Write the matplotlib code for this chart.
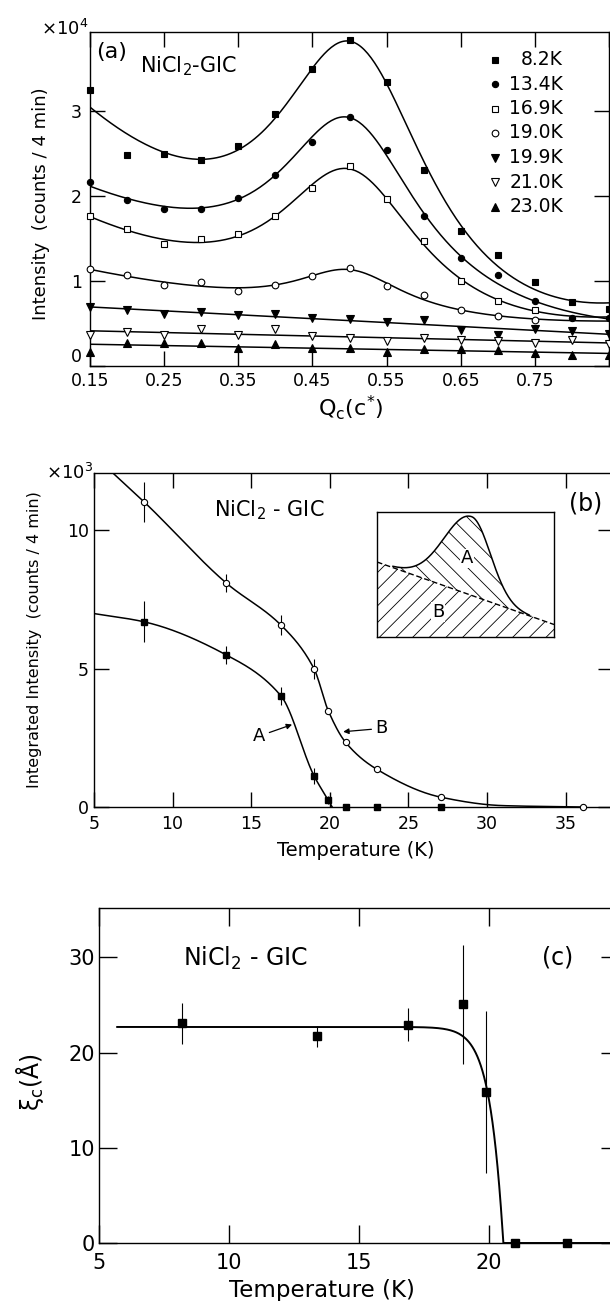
import matplotlib
matplotlib.use('Agg')
import numpy as np
import matplotlib.pyplot as plt

plt.rcParams['font.family'] = ['DejaVu Sans']
plt.rcParams['mathtext.default'] = 'regular'
plt.rcParams['hatch.linewidth'] = 0.6

W, H = 610, 1301
nan = np.nan

# (a) Q_c scans at several temperatures, intensity in units of 1e4 counts / 4 min
q_c = [0.15, 0.20, 0.25, 0.30, 0.35, 0.40, 0.45, 0.50, 0.55, 0.60, 0.65, 0.70, 0.75, 0.80, 0.85]
int_8p2 = [3.25, 2.48, 2.49, 2.42, 2.59, 2.97, 3.49, 3.84, 3.34, 2.31, 1.59, 1.31, 0.99, 0.75, 0.67]
int_13p4 = [2.16, 1.95, 1.85, 1.85, 1.98, 2.25, 2.64, 2.93, 2.54, 1.77, 1.27, 1.07, 0.76, 0.57, 0.56]
int_16p9 = [1.76, 1.61, 1.44, 1.49, 1.55, 1.76, 2.09, 2.35, 1.96, 1.47, 1.00, 0.76, 0.66, nan, nan]
int_19p0 = [1.14, 1.07, 0.95, 0.99, 0.88, 0.95, 1.06, 1.15, 0.94, 0.83, 0.66, 0.59, 0.54, nan, nan]
int_19p9 = [0.70, 0.66, 0.61, 0.64, 0.60, 0.61, 0.57, 0.55, 0.52, 0.54, 0.42, 0.36, 0.44, 0.41, 0.38]
int_21p0 = [0.37, 0.40, 0.37, 0.44, 0.37, 0.44, 0.35, 0.33, 0.30, 0.33, 0.31, 0.29, 0.27, 0.31, 0.26]
int_23p0 = [0.16, 0.27, 0.27, 0.27, 0.21, 0.26, 0.21, 0.21, 0.17, 0.20, 0.20, 0.19, 0.15, 0.13, 0.13]
scan_labels = ['8.2K', '13.4K', '16.9K', '19.0K', '19.9K', '21.0K', '23.0K']

# (b) integrated intensities, units of 1e3 counts / 4 min
T_B = [8.2, 13.4, 16.9, 19.0, 19.9, 21.0, 23.0, 27.1, 36.1]
I_B = [11.02, 8.10, 6.57, 4.99, 3.48, 2.34, 1.36, 0.35, 0.0]
err_B = [0.72, 0.32, 0.37, 0.35, 0, 0, 0, 0, 0]
T_A = [8.2, 13.4, 16.9, 19.0, 19.9, 21.0, 23.0, 27.1]
I_A = [6.69, 5.50, 4.01, 1.12, 0.25, 0.0, 0.0, 0.0]
err_A = [0.74, 0.33, 0.31, 0.30, 0.15, 0, 0, 0]
# guide-to-the-eye nodes
guide_A_T = [5.0, 8.2, 13.4, 16.9, 19.0, 19.9, 20.15]
guide_A_I = [6.99, 6.69, 5.50, 4.01, 1.12, 0.25, 0.0]
guide_B_T = [6.2, 8.2, 13.4, 16.9, 19.0, 19.9, 21.0, 23.0, 27.1, 31.0, 36.1]
guide_B_I = [12.07, 11.02, 8.10, 6.57, 4.99, 3.48, 2.34, 1.36, 0.35, 0.05, 0.0]

# (c) correlation length along c
T_xi = [8.2, 13.4, 16.9, 19.0, 19.9, 21.0, 23.0]
xi_c = [23.1, 21.7, 22.95, 25.1, 15.85, 0.0, 0.0]
err_xi = [2.15, 1.1, 1.7, 6.25, 8.5, 0, 0]
XI0, TC_XI, N_XI = 22.7, 20.55, 40


def fit_peak(q, y):
    """quadratic background + lorentzian, grid over centre and width"""
    q = np.asarray(q); y = np.asarray(y)
    ok = ~np.isnan(y)
    best = None
    for q0 in np.linspace(0.47, 0.53, 13):
        for w in np.linspace(0.03, 0.15, 61):
            X = np.column_stack([np.ones(ok.sum()), q[ok], q[ok] ** 2,
                                 1 / (1 + ((q[ok] - q0) / w) ** 2)])
            coef = np.linalg.lstsq(X, y[ok], rcond=None)[0]
            r = np.sum((X @ coef - y[ok]) ** 2)
            if best is None or r < best[0]:
                best = (r, q0, w, coef)
    _, q0, w, c = best
    return lambda x: c[0] + c[1] * x + c[2] * x ** 2 + c[3] / (1 + ((x - q0) / w) ** 2)


def fit_line(q, y):
    p = np.polyfit(q, y, 1)
    return lambda x: np.polyval(p, x)


def pchip(x, y, xs):
    x = np.asarray(x, float); y = np.asarray(y, float)
    h = np.diff(x); d = np.diff(y) / h
    m = np.zeros_like(y)
    m[0], m[-1] = d[0], d[-1]
    for k in range(1, len(x) - 1):
        if d[k - 1] * d[k] > 0:
            w1 = 2 * h[k] + h[k - 1]
            w2 = h[k] + 2 * h[k - 1]
            m[k] = (w1 + w2) / (w1 / d[k - 1] + w2 / d[k])
    i = np.clip(np.searchsorted(x, xs) - 1, 0, len(x) - 2)
    t = (xs - x[i]) / h[i]
    return ((2 * t ** 3 - 3 * t ** 2 + 1) * y[i] + (t ** 3 - 2 * t ** 2 + t) * h[i] * m[i]
            + (-2 * t ** 3 + 3 * t ** 2) * y[i + 1] + (t ** 3 - t ** 2) * h[i] * m[i + 1])


fig = plt.figure(figsize=(W / 100, H / 100), dpi=100)


def px_axes(left, top, right, bottom):
    return fig.add_axes([left / W, 1 - bottom / H, (right - left) / W, (bottom - top) / H])


def fxy(px, py):
    return px / W, 1 - py / H


def style(ax, size, xpad, ypad, length=11):
    ax.tick_params(direction='in', length=length, width=1, top=True, right=True,
                   labelsize=size)
    ax.tick_params(axis='x', pad=xpad)
    ax.tick_params(axis='y', pad=ypad)
    for s in ax.spines.values():
        s.set_linewidth(1.0)


# ---------------- (a) ----------------
ax = px_axes(90, 32, 609, 366)
ax.set_xlim(0.15, 0.85)
ax.set_ylim(0, 3.93)
ax.set_xticks([0.15, 0.25, 0.35, 0.45, 0.55, 0.65, 0.75, 0.85])
ax.set_xticklabels(['0.15', '0.25', '0.35', '0.45', '0.55', '0.65', '0.75', ''])
ax.set_yticks([0, 1, 2, 3])
ax.set_yticklabels(['0', '1', '2', '3'])
style(ax, 12.5, 4.5, 6)
# keep the corner "0" clear of "0.15"
ax.get_yticklabels()[0].set_va('bottom')

series = [int_8p2, int_13p4, int_16p9, int_19p0, int_19p9, int_21p0, int_23p0]
markers = [('s', 'k', 4.5), ('o', 'k', 4.5), ('s', 'w', 4.8), ('o', 'w', 4.8),
           ('v', 'k', 6), ('v', 'w', 6), ('^', 'k', 6)]
qq = np.linspace(0.15, 0.85, 300)
for k, (ys, (mk, fc, ms)) in enumerate(zip(series, markers)):
    fit = fit_peak(q_c, ys) if k < 4 else fit_line(q_c, ys)
    ax.plot(qq, fit(qq), color='k', lw=1.1, zorder=2)
    ax.plot(q_c, ys, ls='none', marker=mk, mfc=fc, mec='k', mew=0.8, ms=ms,
            zorder=3, clip_on=False)

for k, ((mk, fc, ms), lab) in enumerate(zip(markers, scan_labels)):
    y = 59.5 + 24.5 * k
    fig.lines.append(plt.Line2D([495 / W], [1 - y / H], marker=mk, mfc=fc, mec='k',
                                mew=0.8, ms=ms, transform=fig.transFigure))
    fig.text(*fxy(563, y), lab, ha='right', va='center', fontsize=13.5)

fig.text(*fxy(88, 29), '×10$^4$', ha='right', va='center', fontsize=13)
fig.text(*fxy(96, 52), '(a)', ha='left', va='center', fontsize=16)
fig.text(*fxy(140, 66), 'NiCl$_2$-GIC', ha='left', va='center', fontsize=15)
fig.text(*fxy(41, 204), 'Intensity  (counts / 4 min)', rotation=90,
         ha='center', va='center', fontsize=13)
fig.text(*fxy(351, 408), 'Q$_c$(c$^{*}$)', ha='center', va='center', fontsize=16)

# ---------------- (b) ----------------
bx = px_axes(94, 473, 612.8, 807)
bx.set_xlim(5, 38)
bx.set_ylim(0, 12.07)
bx.set_xticks([5, 10, 15, 20, 25, 30, 35])
bx.set_yticks([0, 5, 10])
style(bx, 12.5, 6, 3.5)

tt = np.linspace(guide_A_T[0], guide_A_T[-1], 300)
bx.plot(tt, pchip(guide_A_T, guide_A_I, tt), color='k', lw=1.1)
tt = np.linspace(guide_B_T[0], guide_B_T[-1], 400)
bx.plot(tt, pchip(guide_B_T, guide_B_I, tt), color='k', lw=1.1)
bx.errorbar(T_B, I_B, yerr=err_B, fmt='none', ecolor='k', elinewidth=0.8, capsize=0)
bx.errorbar(T_A, I_A, yerr=err_A, fmt='none', ecolor='k', elinewidth=0.8, capsize=0)
bx.plot(T_B, I_B, ls='none', marker='o', mfc='w', mec='k', mew=0.8, ms=4.5,
        zorder=3, clip_on=False)
bx.plot(T_A, I_A, ls='none', marker='s', mfc='k', mec='k', ms=4.5,
        zorder=3, clip_on=False)

arrow = dict(arrowstyle='-|>', color='k', lw=0.9, mutation_scale=8,
             shrinkA=1, shrinkB=0)
bx.annotate('A', xy=(17.6, 2.98), xytext=(15.5, 2.56), fontsize=13,
            ha='center', va='center', arrowprops=arrow)
bx.annotate('B', xy=(20.85, 2.72), xytext=(23.3, 2.84), fontsize=13,
            ha='center', va='center', arrowprops=arrow)

fig.text(*fxy(93, 473), '×10$^3$', ha='right', va='center', fontsize=13)
fig.text(*fxy(214, 510), 'NiCl$_2$ - GIC', ha='left', va='center', fontsize=15)
fig.text(*fxy(569, 503), '(b)', ha='left', va='center', fontsize=17)
fig.text(*fxy(35, 640), 'Integrated Intensity  (counts / 4 min)', rotation=90,
         ha='center', va='center', fontsize=11.5)
fig.text(*fxy(356, 850), 'Temperature (K)', ha='center', va='center', fontsize=14)

# inset: peak A on top of the background B
ix = px_axes(377, 512, 554, 637)
ix.set_xlim(0, 1)
ix.set_ylim(0, 1)
ix.set_xticks([])
ix.set_yticks([])
for s in ix.spines.values():
    s.set_linewidth(1.0)
u = np.linspace(0, 1, 300)
base = 0.6 - 0.5 * u
peak = 0.63 * np.exp(-((u - 0.535) / np.where(u < 0.535, 0.22, 0.15)) ** 2)
ix.fill_between(u, 0, base, facecolor='none', edgecolor='k', hatch='//', lw=0)
ix.fill_between(u, base, base + peak, facecolor='none', edgecolor='k', hatch='\\\\', lw=0)
ix.plot(u, base, color='k', lw=1.0, ls=(0, (4, 2)))
sel = (u > 0.09) & (u < 0.86)
ix.plot(u[sel], (base + peak)[sel], color='k', lw=1.1)
ix.text(0.507, 0.63, 'A', ha='center', va='center', fontsize=13,
        bbox=dict(fc='w', ec='none', pad=0.5))
ix.text(0.345, 0.2, 'B', ha='center', va='center', fontsize=13,
        bbox=dict(fc='w', ec='none', pad=0.5))

# ---------------- (c) ----------------
cx = px_axes(99, 908, 619, 1243)
cx.set_xlim(5, 25)
cx.set_ylim(0, 35.2)
cx.set_xticks([5, 10, 15, 20, 25])
cx.set_xticklabels(['5', '10', '15', '20', ''])
cx.set_yticks([0, 10, 20, 30])
style(cx, 15, 7, 3, length=13)

tt = np.linspace(5.7, 25, 600)
fit_xi = np.where(tt < TC_XI, XI0 * (1 - (tt / TC_XI) ** N_XI), 0.0)
cx.plot(tt, fit_xi, color='k', lw=1.4)
cx.errorbar(T_xi, xi_c, yerr=err_xi, fmt='none', ecolor='k', elinewidth=0.8, capsize=0)
cx.plot(T_xi, xi_c, ls='none', marker='s', mfc='k', mec='k', ms=5.5,
        zorder=3, clip_on=False)

fig.text(*fxy(183, 958), 'NiCl$_2$ - GIC', ha='left', va='center', fontsize=17)
fig.text(*fxy(542, 958), '(c)', ha='left', va='center', fontsize=17)
fig.text(*fxy(30, 1082), r'$\xi_c$(Å)', rotation=90, ha='center', va='center',
         fontsize=17)
fig.text(*fxy(322, 1290), 'Temperature (K)', ha='center', va='center', fontsize=16.5)

fig.savefig('out.png', dpi=100)
